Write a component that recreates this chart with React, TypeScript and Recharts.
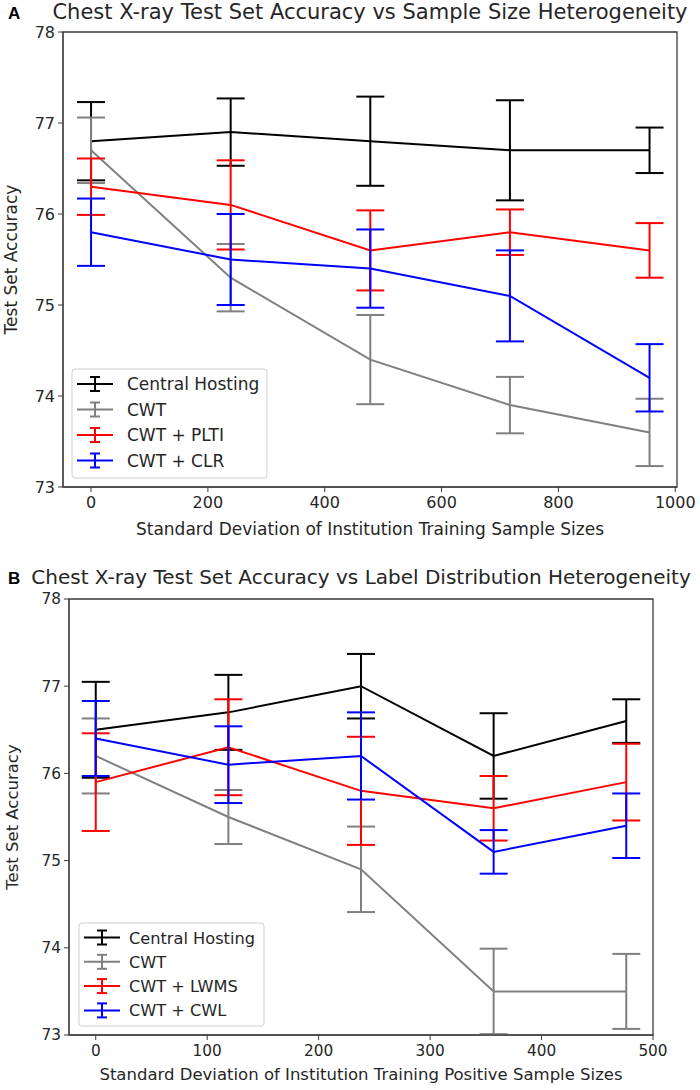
import React from 'react';
import { LineChart, Line, XAxis, YAxis, ErrorBar, ReferenceArea } from 'recharts';

// panel A: sample size heterogeneity
const xA = [0, 239, 478, 717, 956];
const centralA = [76.8, 76.9, 76.8, 76.7, 76.7];
const centralAErr = [0.43, 0.37, 0.49, 0.55, 0.25];
const cwtA = [76.7, 75.3, 74.4, 73.9, 73.6];
const cwtAErr = [0.36, 0.37, 0.49, 0.31, 0.37];
const pltiA = [76.3, 76.1, 75.6, 75.8, 75.6];
const pltiAErr = [0.31, 0.49, 0.44, 0.25, 0.3];
const clrA = [75.8, 75.5, 75.4, 75.1, 74.2];
const clrAErr = [0.37, 0.5, 0.43, 0.5, 0.37];
const ticksXA = [0, 200, 400, 600, 800, 1000];

// panel B: label distribution heterogeneity
const xB = [0, 119, 238, 357, 476];
const centralB = [76.5, 76.7, 77.0, 76.2, 76.6];
const centralBErr = [0.55, 0.43, 0.37, 0.49, 0.25];
const cwtB = [76.2, 75.5, 74.9, 73.5, 73.5];
const cwtBErr = [0.43, 0.31, 0.49, 0.49, 0.43];
const lwmsB = [75.9, 76.3, 75.8, 75.6, 75.9];
const lwmsBErr = [0.56, 0.55, 0.62, 0.37, 0.44];
const cwlB = [76.4, 76.1, 76.2, 75.1, 75.4];
const cwlBErr = [0.43, 0.44, 0.5, 0.25, 0.37];
const ticksXB = [0, 100, 200, 300, 400, 500];

const ticksY = [73, 74, 75, 76, 77, 78];

const FONT = '"DejaVu Sans", Verdana, sans-serif';
const TEXT = '#262626';
const SPINE = '#3a3a3a';

type Series = { key: string; name: string; color: string; values: number[]; errors: number[] };

const seriesA: Series[] = [
  { key: 'central', name: 'Central Hosting', color: '#000000', values: centralA, errors: centralAErr },
  { key: 'cwt', name: 'CWT', color: '#808080', values: cwtA, errors: cwtAErr },
  { key: 'plti', name: 'CWT + PLTI', color: '#ff0000', values: pltiA, errors: pltiAErr },
  { key: 'clr', name: 'CWT + CLR', color: '#0000ff', values: clrA, errors: clrAErr },
];

const seriesB: Series[] = [
  { key: 'central', name: 'Central Hosting', color: '#000000', values: centralB, errors: centralBErr },
  { key: 'cwt', name: 'CWT', color: '#808080', values: cwtB, errors: cwtBErr },
  { key: 'lwms', name: 'CWT + LWMS', color: '#ff0000', values: lwmsB, errors: lwmsBErr },
  { key: 'cwl', name: 'CWT + CWL', color: '#0000ff', values: cwlB, errors: cwlBErr },
];

type PanelProps = {
  top: number;
  height: number;
  letter: string;
  title: string;
  xLabel: string;
  xs: number[];
  series: Series[];
  xDomain: [number, number];
  xTicks: number[];
  plot: { left: number; top: number; right: number; bottom: number };
  titleSize: number;
  labelSize: number;
  tickSize: number;
  legendSize: number;
  legend: { x: number; y: number; w: number; h: number; row: number; first: number; textX: number };
  yLabelX: number;
  xLabelY: number;
  titleY: number;
};

function Panel(p: PanelProps) {
  const data = p.xs.map((x, i) => {
    const row: Record<string, number> = { x };
    p.series.forEach((s) => {
      row[s.key] = s.values[i];
      row[s.key + 'Err'] = s.errors[i];
    });
    return row;
  });
  const midX = (p.plot.left + p.plot.right) / 2;
  const midY = (p.plot.top + p.plot.bottom) / 2;
  const tick = { fontSize: p.tickSize, fill: TEXT, fontFamily: FONT };
  const lg = p.legend;

  return (
    <div style={{ position: 'absolute', left: 0, top: p.top, width: 700, height: p.height }}>
      <LineChart
        width={700}
        height={p.height}
        data={data}
        margin={{ top: p.plot.top, right: 700 - p.plot.right, left: 0, bottom: 0 }}
      >
        <XAxis
          type="number"
          dataKey="x"
          domain={p.xDomain}
          ticks={p.xTicks}
          allowDataOverflow
          height={p.height - p.plot.bottom}
          tick={tick}
          tickSize={5}
          tickMargin={5}
          stroke={SPINE}
          tickLine={{ stroke: SPINE }}
        />
        <YAxis
          type="number"
          domain={[73, 78]}
          ticks={ticksY}
          allowDataOverflow
          width={p.plot.left}
          tick={tick}
          tickSize={5}
          tickMargin={3}
          stroke={SPINE}
          tickLine={{ stroke: SPINE }}
        />
        <ReferenceArea
          x1={p.xDomain[0]}
          x2={p.xDomain[1]}
          y1={73}
          y2={78}
          fill="none"
          stroke={SPINE}
          strokeWidth={1.3}
        />
        {p.series.map((s) => (
          <Line
            key={s.key}
            type="linear"
            dataKey={s.key}
            stroke={s.color}
            strokeWidth={2}
            dot={false}
            activeDot={false}
            isAnimationActive={false}
          >
            <ErrorBar
              dataKey={s.key + 'Err'}
              width={14}
              stroke={s.color}
              strokeWidth={2}
              direction="y"
              isAnimationActive={false}
            />
          </Line>
        ))}
      </LineChart>

      <svg
        width={700}
        height={p.height}
        style={{ position: 'absolute', left: 0, top: 0, pointerEvents: 'none' }}
      >
        <text x={8} y={p.titleY} fontFamily='"Liberation Sans", Arial, sans-serif' fontWeight="bold" fontSize={17} fill="#000">
          {p.letter}
        </text>
        <text x={midX} y={p.titleY} textAnchor="middle" fontFamily={FONT} fontSize={p.titleSize} fill={TEXT}>
          {p.title}
        </text>
        <text x={midX} y={p.xLabelY} textAnchor="middle" fontFamily={FONT} fontSize={p.labelSize} fill={TEXT}>
          {p.xLabel}
        </text>
        <text
          x={p.yLabelX}
          y={midY}
          textAnchor="middle"
          transform={`rotate(-90 ${p.yLabelX} ${midY})`}
          fontFamily={FONT}
          fontSize={p.labelSize}
          fill={TEXT}
        >
          Test Set Accuracy
        </text>

        {/* legend, matplotlib style box in the lower left */}
        <rect x={lg.x} y={lg.y} width={lg.w} height={lg.h} rx={3} fill="#fff" fillOpacity={0.8} stroke="#d0d0d0" />
        {p.series.map((s, i) => {
          const cy = lg.y + lg.first + i * lg.row;
          const x0 = lg.x + 5;
          const x1 = x0 + 36;
          const xm = (x0 + x1) / 2;
          return (
            <g key={s.key}>
              <line x1={x0} x2={x1} y1={cy} y2={cy} stroke={s.color} strokeWidth={2} />
              <line x1={xm} x2={xm} y1={cy - 7} y2={cy + 7} stroke={s.color} strokeWidth={2} />
              <line x1={xm - 5} x2={xm + 5} y1={cy - 7} y2={cy - 7} stroke={s.color} strokeWidth={2} />
              <line x1={xm - 5} x2={xm + 5} y1={cy + 7} y2={cy + 7} stroke={s.color} strokeWidth={2} />
              <text x={lg.textX} y={cy + 6} fontFamily={FONT} fontSize={p.legendSize} fill={TEXT}>
                {s.name}
              </text>
            </g>
          );
        })}
      </svg>
    </div>
  );
}

export default function App() {
  return (
    <div style={{ position: 'absolute', left: 0, top: 0, width: 700, height: 1090, background: '#fff' }}>
      <Panel
        top={0}
        height={545}
        letter="A"
        title="Chest X-ray Test Set Accuracy vs Sample Size Heterogeneity"
        xLabel="Standard Deviation of Institution Training Sample Sizes"
        xs={xA}
        series={seriesA}
        xDomain={[-48, 1003]}
        xTicks={ticksXA}
        plot={{ left: 63, top: 32, right: 677, bottom: 487 }}
        titleSize={21}
        labelSize={17}
        tickSize={16}
        legendSize={17}
        legend={{ x: 72, y: 369, w: 195, h: 109, row: 25.5, first: 15, textX: 127 }}
        yLabelX={17}
        xLabelY={535}
        titleY={19}
      />
      <Panel
        top={545}
        height={545}
        letter="B"
        title="Chest X-ray Test Set Accuracy vs Label Distribution Heterogeneity"
        xLabel="Standard Deviation of Institution Training Positive Sample Sizes"
        xs={xB}
        series={seriesB}
        xDomain={[-24, 500]}
        xTicks={ticksXB}
        plot={{ left: 69, top: 54, right: 653, bottom: 490 }}
        titleSize={20}
        labelSize={16.5}
        tickSize={15.3}
        legendSize={16.2}
        legend={{ x: 79, y: 378, w: 185, h: 103, row: 24.3, first: 14.5, textX: 129 }}
        yLabelX={18}
        xLabelY={535}
        titleY={39}
      />
    </div>
  );
}
